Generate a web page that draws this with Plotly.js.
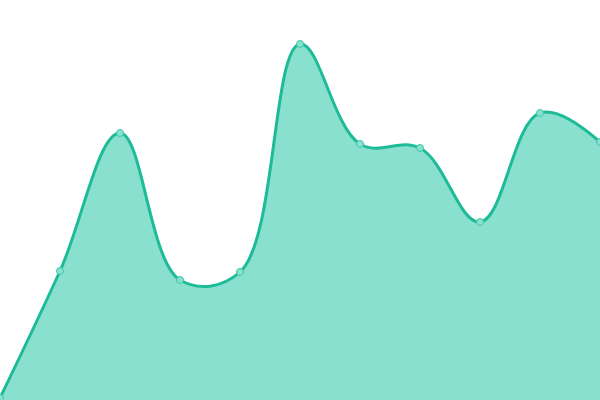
<!DOCTYPE html>
<html>
<head>
<meta charset="utf-8">
<script src="https://cdn.plot.ly/plotly-3.0.1.min.js"></script>
<style>
  html, body { margin: 0; padding: 0; background: #ffffff; }
  #chart { width: 600px; height: 400px; }
</style>
</head>
<body>
<div id="chart"></div>
<script>
const xs = [0, 1, 2, 3, 4, 5, 6, 7, 8, 9, 10]
const values = [2, 129, 267, 120, 128, 356, 256, 252, 178, 287, 258]

const trace = {
  x: xs,
  y: values,
  type: 'scatter',
  mode: 'lines+markers',
  fill: 'tozeroy',
  fillcolor: '#89e0ce',
  line: { color: '#1dbb98', width: 3, shape: 'spline', smoothing: 1.1 },
  marker: { size: 7, color: '#89e0ce', line: { color: '#3fc7a8', width: 1 } },
  hoverinfo: 'none',
}

const layout = {
  width: 600,
  height: 400,
  margin: { l: 0, r: 0, t: 0, b: 0 },
  paper_bgcolor: '#ffffff',
  plot_bgcolor: '#ffffff',
  showlegend: false,
  xaxis: { range: [0, 10], visible: false, fixedrange: true },
  yaxis: { range: [0, 400], visible: false, fixedrange: true },
}

Plotly.newPlot('chart', [trace], layout, { staticPlot: true, displayModeBar: false })
</script>
</body>
</html>
